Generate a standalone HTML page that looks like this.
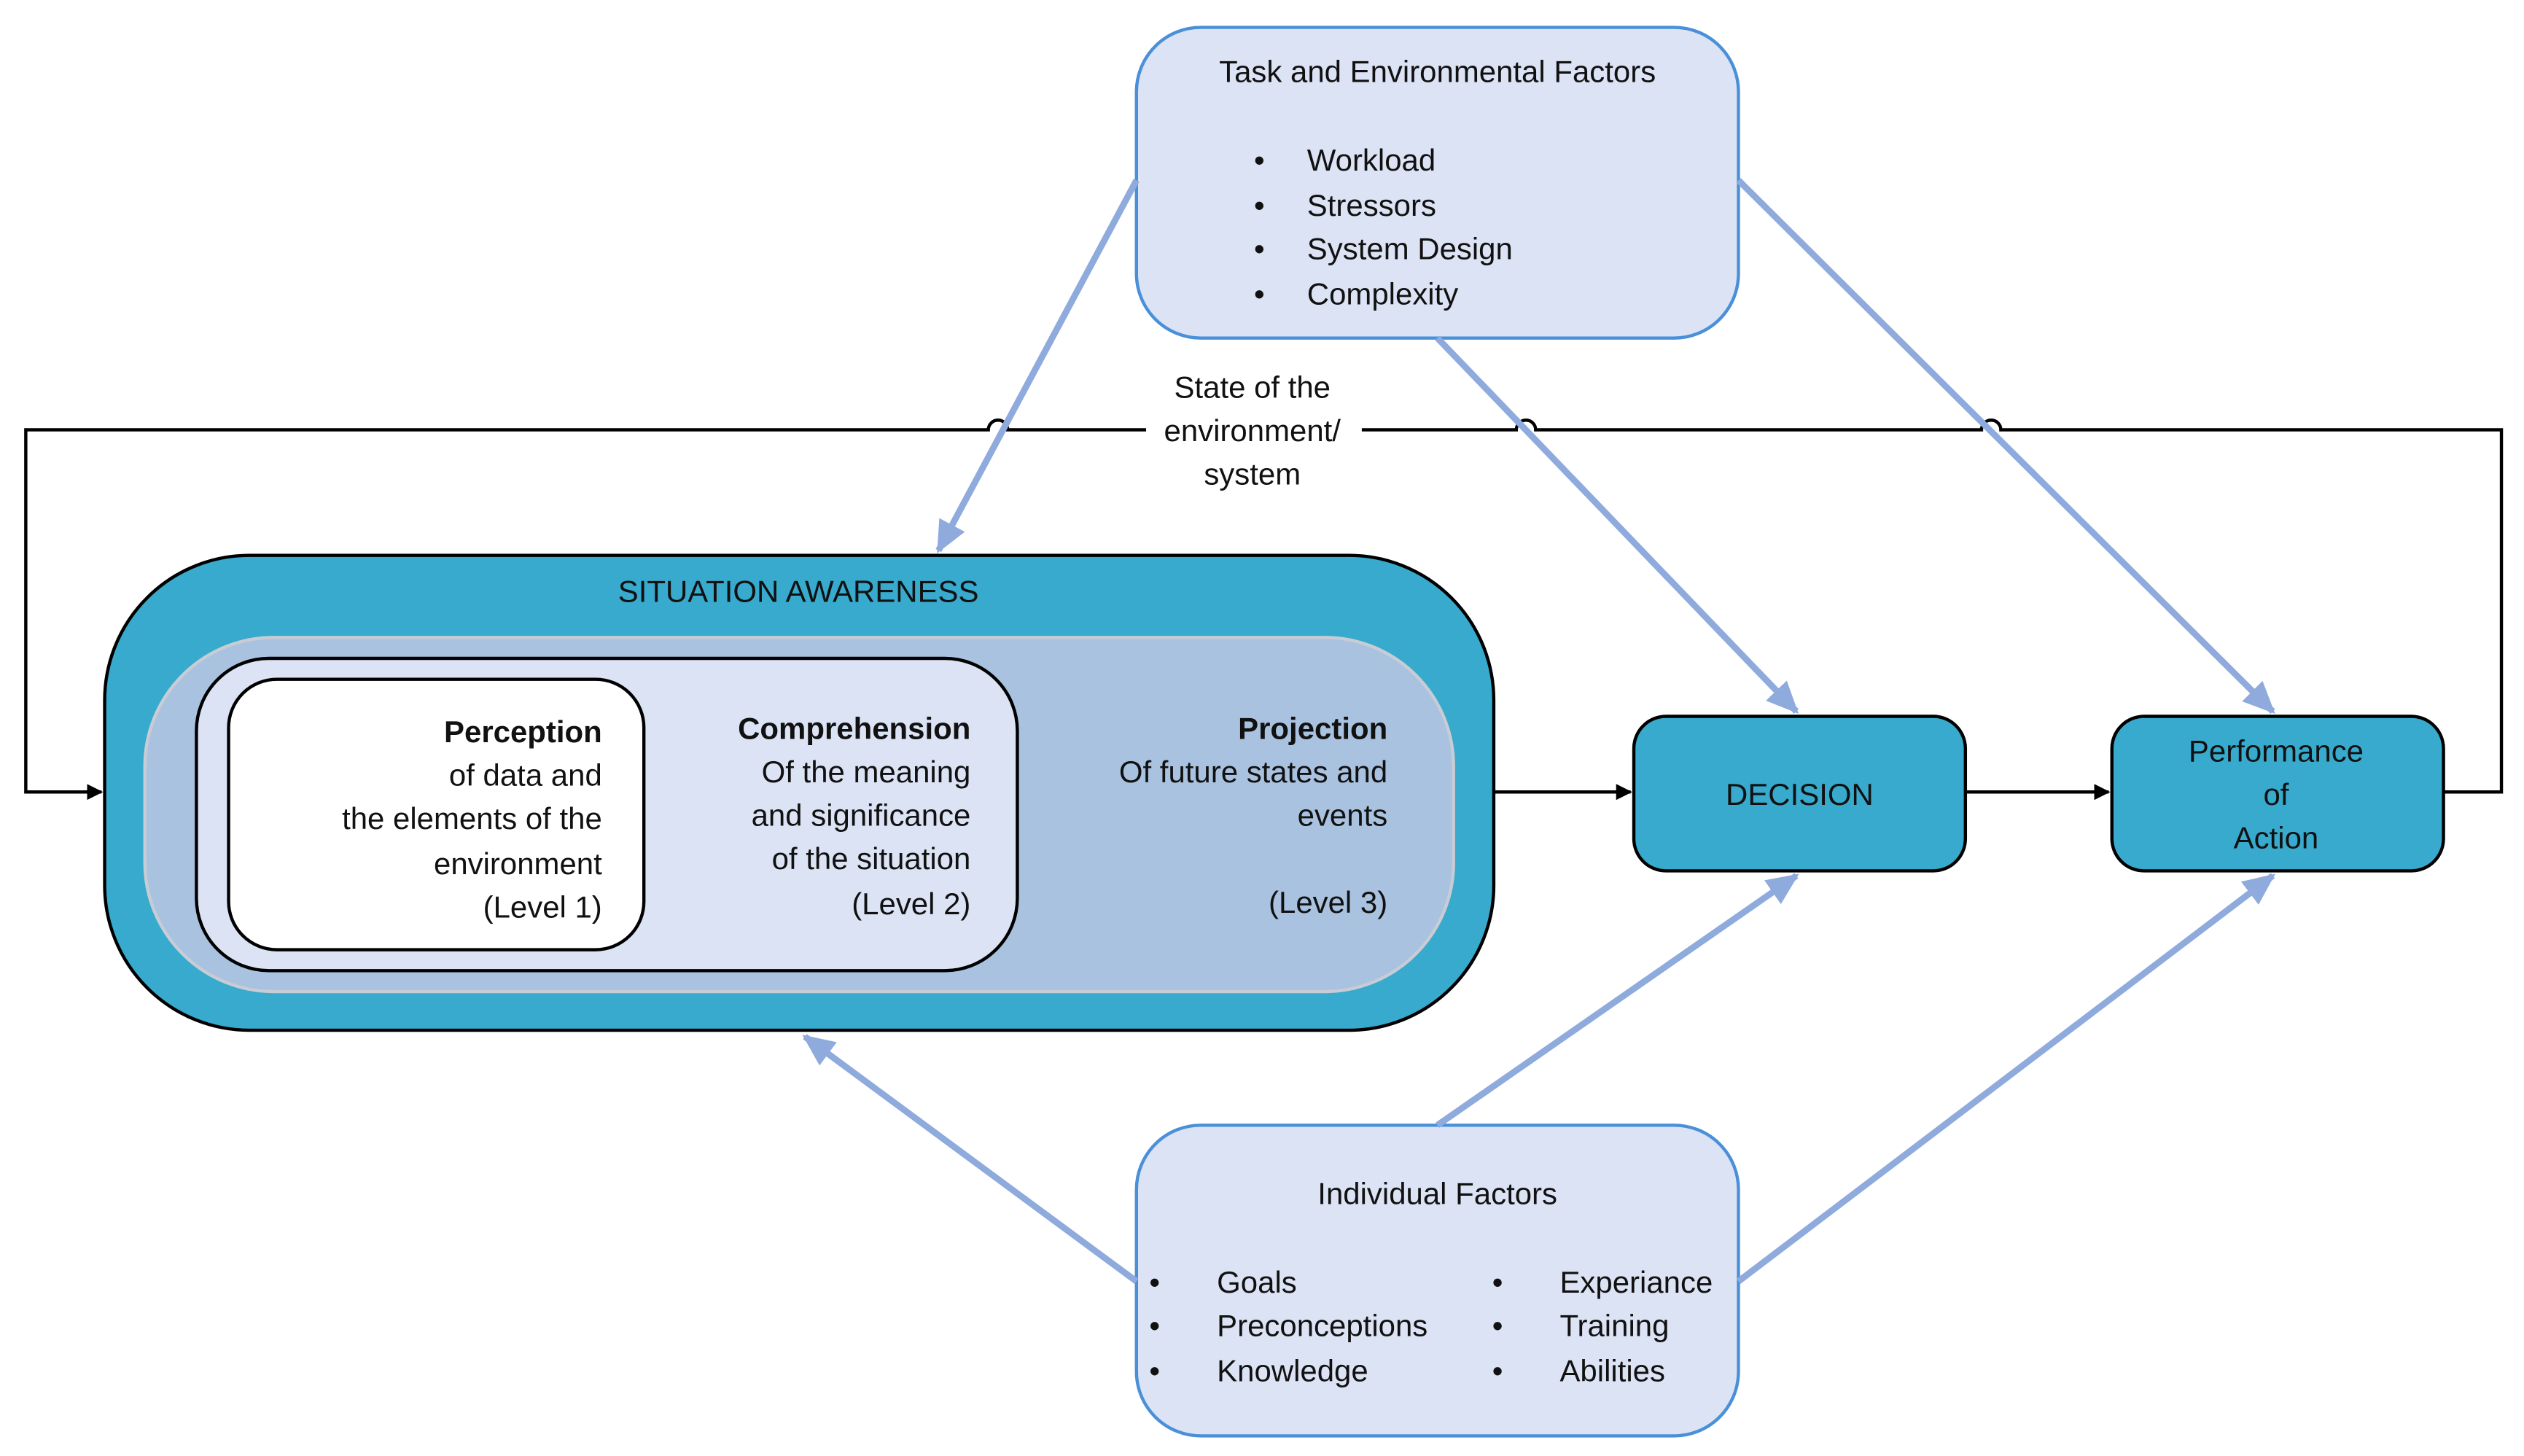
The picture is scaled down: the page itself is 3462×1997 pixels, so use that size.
<!DOCTYPE html>
<html><head><meta charset="utf-8"><style>
html,body{margin:0;padding:0;background:#fff;}
svg{display:block;}
text{font-family:"Liberation Sans",sans-serif;font-size:19px;fill:#111;}
.b{font-weight:bold;}
</style></head><body>
<svg width="3462" height="1997" viewBox="0 0 1568 904.5" xmlns="http://www.w3.org/2000/svg">
<defs>
<marker id="ab" markerWidth="10" markerHeight="10" refX="9" refY="5" orient="auto" markerUnits="userSpaceOnUse"><path d="M0,0 L10,5 L0,10 z" fill="#000"/></marker>
<marker id="bl" markerWidth="22" markerHeight="22" refX="18" refY="11" orient="auto" markerUnits="userSpaceOnUse"><path d="M0,2 L20,11 L0,20 z" fill="#8faadc"/></marker>
</defs>
<!-- feedback loop -->
<path d="M1518,492 H1554 V267 H1243 a6,6 0 0 0 -12,0 H954 a6,6 0 0 0 -12,0 H626 a6,6 0 0 0 -12,0 H16 V492 H63" fill="none" stroke="#000" stroke-width="2" marker-end="url(#ab)"/>
<rect x="712" y="228" width="134" height="78" fill="#fff"/>
<text x="778" y="247" text-anchor="middle">State of the</text>
<text x="778" y="274" text-anchor="middle">environment/</text>
<text x="778" y="301" text-anchor="middle">system</text>
<!-- SA -->
<rect x="65" y="345" width="863" height="295" rx="90" fill="#37aacd" stroke="#000" stroke-width="2"/>
<text x="496" y="374" text-anchor="middle">SITUATION AWARENESS</text>
<rect x="90" y="396" width="813" height="220" rx="80" fill="#a9c2e0" stroke="#c8ccd4" stroke-width="2"/>
<rect x="122" y="409" width="510" height="194" rx="45" fill="#dce3f5" stroke="#000" stroke-width="2"/>
<rect x="142" y="422" width="258" height="168" rx="30" fill="#fff" stroke="#000" stroke-width="2"/>
<text x="374" y="461" text-anchor="end" class="b">Perception</text>
<text x="374" y="488" text-anchor="end">of data and</text>
<text x="374" y="515" text-anchor="end">the elements of the</text>
<text x="374" y="543" text-anchor="end">environment</text>
<text x="374" y="570" text-anchor="end">(Level 1)</text>
<text x="603" y="459" text-anchor="end" class="b">Comprehension</text>
<text x="603" y="486" text-anchor="end">Of the meaning</text>
<text x="603" y="513" text-anchor="end">and significance</text>
<text x="603" y="540" text-anchor="end">of the situation</text>
<text x="603" y="568" text-anchor="end">(Level 2)</text>
<text x="862" y="459" text-anchor="end" class="b">Projection</text>
<text x="862" y="486" text-anchor="end">Of future states and</text>
<text x="862" y="513" text-anchor="end">events</text>
<text x="862" y="567" text-anchor="end">(Level 3)</text>
<!-- decision / performance -->
<line x1="928" y1="492" x2="1013" y2="492" stroke="#000" stroke-width="2" marker-end="url(#ab)"/>
<line x1="1221" y1="492" x2="1310" y2="492" stroke="#000" stroke-width="2" marker-end="url(#ab)"/>
<rect x="1015" y="445" width="206" height="96" rx="20" fill="#37aacd" stroke="#000" stroke-width="2"/>
<text x="1118" y="500" text-anchor="middle">DECISION</text>
<rect x="1312" y="445" width="206" height="96" rx="20" fill="#37aacd" stroke="#000" stroke-width="2"/>
<text x="1414" y="473" text-anchor="middle">Performance</text>
<text x="1414" y="500" text-anchor="middle">of</text>
<text x="1414" y="527" text-anchor="middle">Action</text>
<!-- factor boxes -->
<rect x="706" y="17" width="374" height="193" rx="40" fill="#dce3f5" stroke="#4a90d9" stroke-width="2"/>
<text x="893" y="51" text-anchor="middle">Task and Environmental Factors</text>
<g><text x="779" y="106">•</text><text x="812" y="106">Workload</text>
<text x="779" y="134">•</text><text x="812" y="134">Stressors</text>
<text x="779" y="161">•</text><text x="812" y="161">System Design</text>
<text x="779" y="189">•</text><text x="812" y="189">Complexity</text></g>
<rect x="706" y="699" width="374" height="193" rx="40" fill="#dce3f5" stroke="#4a90d9" stroke-width="2"/>
<text x="893" y="748" text-anchor="middle">Individual Factors</text>
<text x="714" y="803">•</text><text x="756" y="803">Goals</text>
<text x="714" y="830">•</text><text x="756" y="830">Preconceptions</text>
<text x="714" y="858">•</text><text x="756" y="858">Knowledge</text>
<text x="927" y="803">•</text><text x="969" y="803">Experiance</text>
<text x="927" y="830">•</text><text x="969" y="830">Training</text>
<text x="927" y="858">•</text><text x="969" y="858">Abilities</text>
<!-- blue arrows -->
<g stroke="#8faadc" stroke-width="4" fill="none">
<line x1="706" y1="112" x2="583" y2="342" marker-end="url(#bl)"/>
<line x1="893" y1="210" x2="1116" y2="442" marker-end="url(#bl)"/>
<line x1="1080" y1="112" x2="1412" y2="442" marker-end="url(#bl)"/>
<line x1="706" y1="796" x2="500" y2="644" marker-end="url(#bl)"/>
<line x1="893" y1="699" x2="1116" y2="544" marker-end="url(#bl)"/>
<line x1="1080" y1="796" x2="1412" y2="544" marker-end="url(#bl)"/>
</g>
</svg>
</body></html>
